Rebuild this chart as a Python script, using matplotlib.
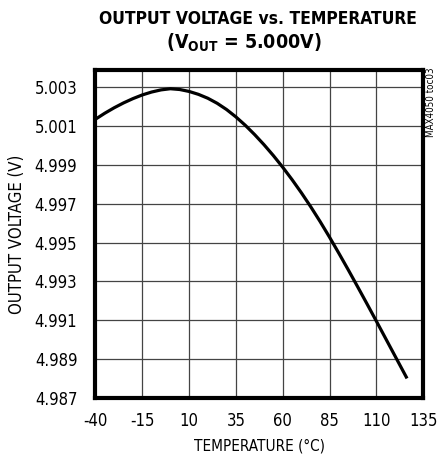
import numpy as np
import matplotlib.pyplot as plt

plt.rcParams['font.family'] = ['DejaVu Sans']
plt.rcParams['font.stretch'] = 'condensed'
plt.rcParams['mathtext.default'] = 'regular'

# data
temp = [-40, -35, -30, -25, -20, -15, -10, -5, 0, 5, 10, 15, 20, 25, 30, 35, 40,
        45, 50, 55, 60, 65, 70, 75, 80, 85, 90, 95, 100, 105, 110, 115, 120, 126]
vout = [5.00135, 5.00166, 5.00194, 5.00219, 5.00241, 5.00260, 5.00275, 5.00286,
        5.00292, 5.00288, 5.00278, 5.00263, 5.00243, 5.00217, 5.00185, 5.00147,
        5.00104, 5.00056, 5.00004, 4.99948, 4.99888, 4.99824, 4.99756, 4.99684,
        4.99608, 4.99528, 4.99445, 4.99360, 4.99273, 4.99185, 4.99096, 4.99006,
        4.98916, 4.98808]

xticks = [-40, -15, 10, 35, 60, 85, 110, 135]
yticks = [4.987, 4.989, 4.991, 4.993, 4.995, 4.997, 4.999, 5.001, 5.003]

fig = plt.figure(figsize=(4.44, 4.58), dpi=100)
ax = fig.add_axes([0.215, 0.131, 0.738, 0.716])

ax.plot(temp, vout, color='black', lw=2.3, solid_joinstyle='round')

ax.set_xlim(-40, 135)
ax.set_ylim(4.987, 5.00388)
ax.set_xticks(xticks)
ax.set_yticks(yticks)
ax.set_xticklabels([str(t) for t in xticks])
ax.set_yticklabels(['%.3f' % v for v in yticks])
ax.tick_params(length=0, labelsize=12, pad=10)
ax.tick_params(axis='y', pad=13)
ax.grid(True, color='#444444', lw=0.9)
for s in ax.spines.values():
    s.set_linewidth(3)

ax.set_xlabel('TEMPERATURE (°C)', fontsize=11, labelpad=6)
ax.set_ylabel('OUTPUT VOLTAGE (V)', fontsize=12, labelpad=6)

fig.text(0.582, 0.958, 'OUTPUT VOLTAGE vs. TEMPERATURE', ha='center', va='center',
         fontsize=12.5, fontweight='bold')
fig.text(0.55, 0.907, r'(V$_{OUT}$ = 5.000V)', ha='center', va='center',
         fontsize=14, fontweight='bold')
fig.text(0.971, 0.853, 'MAX4050 toc03', rotation=90, ha='center', va='top', fontsize=7)

fig.savefig('out.png', dpi=100)
